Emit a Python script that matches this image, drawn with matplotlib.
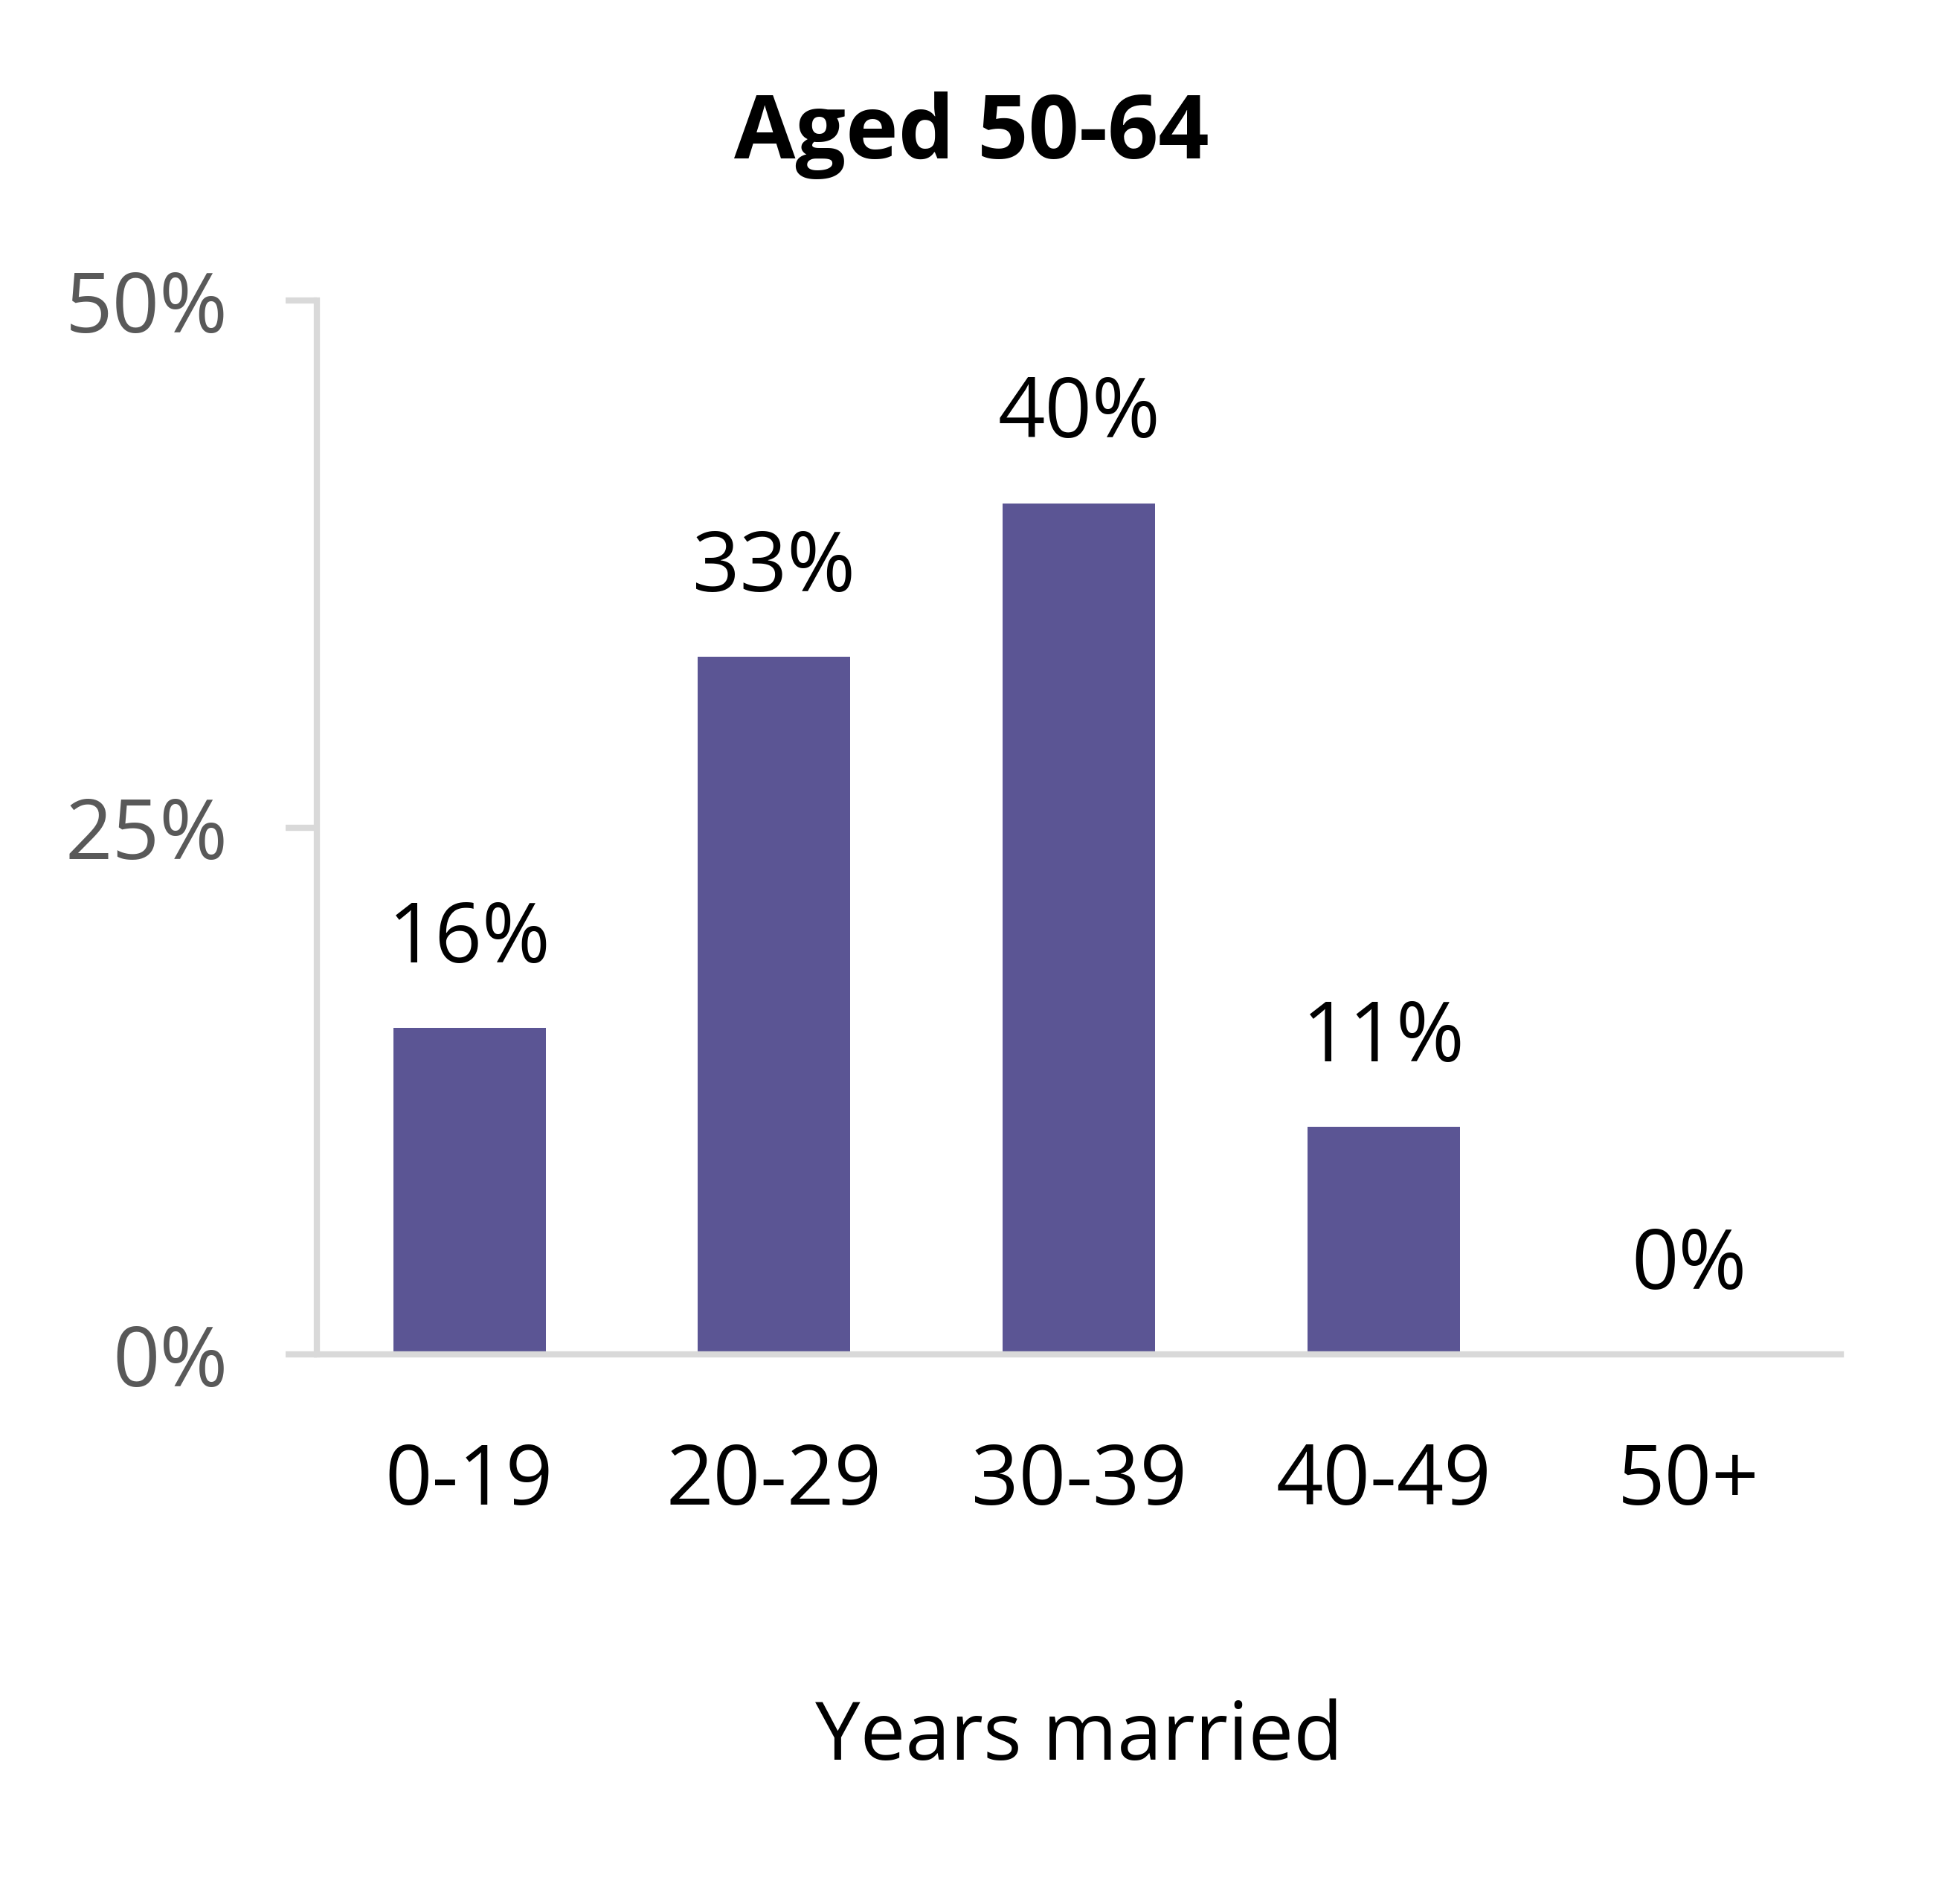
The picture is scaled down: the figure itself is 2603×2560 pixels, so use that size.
import matplotlib
matplotlib.use("Agg")
import matplotlib.pyplot as plt
from matplotlib.ticker import FuncFormatter

categories = ["0-19", "20-29", "30-39", "40-49", "50+"]
shares = [15.5, 33.1, 40.4, 10.8, 0.0]
labels = ["16%", "33%", "40%", "11%", "0%"]
yticks = [0, 25, 50]

BAR_COLOR = "#5B5594"
AXIS_COLOR = "#D9D9D9"
TICK_TEXT = "#595959"
FS = 40

plt.rcParams["font.family"] = ["Open Sans", "DejaVu Sans"]

fig = plt.figure(figsize=(13.015, 12.8), dpi=200)
ax = fig.add_axes([0.1637, 0.2885, 0.951 - 0.1637, 0.842 - 0.2885])

x = list(range(len(categories)))
ax.bar(x, shares, width=0.5, color=BAR_COLOR, zorder=2)

for xi, v, lab in zip(x, shares, labels):
    ax.annotate(lab, (xi, v), xytext=(0, 22), textcoords="offset points",
                ha="center", va="bottom", fontsize=FS, color="black")

ax.set_xlim(-0.5, 4.5)
ax.set_ylim(0, 50)
ax.set_xticks(x)
ax.set_xticklabels(categories)
ax.set_yticks(yticks)
ax.yaxis.set_major_formatter(FuncFormatter(lambda v, _: f"{v:.0f}%"))

for side in ("top", "right"):
    ax.spines[side].set_visible(False)
for side in ("left", "bottom"):
    ax.spines[side].set_color(AXIS_COLOR)
    ax.spines[side].set_linewidth(3)
    ax.spines[side].set_zorder(3)

ax.tick_params(axis="y", length=15, width=3, color=AXIS_COLOR,
               labelsize=FS, labelcolor=TICK_TEXT, pad=28)
ax.tick_params(axis="x", length=0, labelsize=FS, labelcolor="black", pad=42)

ax.set_xlabel("Years married", fontsize=39, color="black", labelpad=84)
fig.text(0.502, 0.929, "Aged 50-64", ha="center", va="center",
         fontsize=43, fontweight="bold", color="black")

fig.savefig("out.png", dpi=200, facecolor="white")
